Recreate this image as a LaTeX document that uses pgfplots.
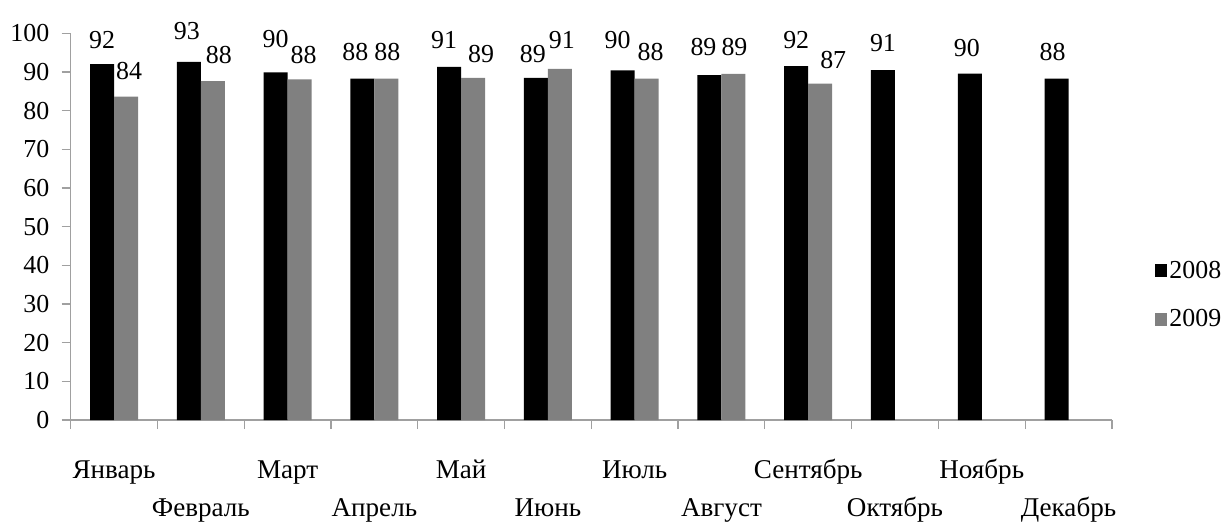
\documentclass[border=0pt]{standalone}
\usepackage{fontspec}
\setmainfont{Liberation Serif}
\usepackage{pgfplots}
\pgfplotsset{compat=1.18}
\definecolor{bargray}{HTML}{808080}
\definecolor{axgray}{HTML}{A0A0A0}
\newcommand{\chf}{\fontsize{13}{15}\selectfont}
\newcommand{\catf}{\fontsize{13.6}{15}\selectfont}
% data label: horizontal offset (px of the image, written as bp), raise (bp), text
\newcommand{\lbl}[3]{\raisebox{#2bp}{\makebox[0pt][c]{\hspace{#1bp}#3}}}
\begin{document}
\begin{tikzpicture}
\path[use as bounding box] (-35.35bp,-52.5bp) rectangle (576.65bp,210bp);
\begin{axis}[
  ybar=0pt,
  bar width=12bp,
  scale only axis, width=520.6bp, height=193.35bp,
  xmin=-0.5, xmax=11.5, ymin=0, ymax=100,
  axis x line*=bottom, axis y line*=left,
  axis line style={draw=axgray, line width=0.6bp, -},
  tick align=outside,
  major tick length=4.5bp, minor tick length=4.5bp,
  tick style={draw=axgray, line width=0.6bp},
  major x tick style={draw=none},
  ytick={0,10,...,100},
  yticklabels={0,10,20,30,40,50,60,70,80,90,100},
  xtick={0,2,4,6,8,10},
  xticklabels={Январь,Март,Май,Июль,Сентябрь,Ноябрь},
  extra x ticks={1,3,5,7,9,11},
  extra x tick labels={Февраль,Апрель,Июнь,Август,Октябрь,Декабрь},
  extra x tick style={major tick length=0pt, xticklabel style={yshift=-23.5bp}},
  minor xtick={-0.5,0.5,...,11.5},
  xticklabel style={font=\catf, anchor=base, inner sep=0pt, yshift=-24.5bp},
  yticklabel style={font=\chf, anchor=east, inner sep=0pt, xshift=-6bp},
  point meta=explicit symbolic,
  nodes near coords,
  every node near coord/.append style={font=\chf, anchor=base, inner sep=0pt},
  legend style={at={(1.0414,0.323)}, anchor=west, draw=none, fill=none, font=\chf,
     inner sep=0pt, row sep=14bp, nodes={inner xsep=1bp, inner ysep=0pt}},
  legend cell align=left,
  legend image code/.code={\fill[#1] (0bp,-3.25bp) rectangle (6bp,3.25bp);},
]
\addplot[fill=black, draw=none] coordinates {
 (0,92.0)[\lbl{0}{8}{92}] (1,92.6)[\lbl{-2}{11.3}{93}] (2,89.9)[\lbl{0}{12.5}{90}]
 (3,88.3)[\lbl{-7}{8.9}{88}] (4,91.3)[\lbl{-5}{9.3}{91}] (5,88.5)[\lbl{-3}{7.5}{89}]
 (6,90.4)[\lbl{-5}{11}{90}] (7,89.2)[\lbl{-6}{10}{89}] (8,91.5)[\lbl{0}{9}{92}]
 (9,90.5)[\lbl{0}{9.2}{91}] (10,89.6)[\lbl{-3}{8.4}{90}] (11,88.3)[\lbl{-4}{8.9}{88}]};
\addplot[fill=bargray, draw=none] coordinates {
 (0,83.6)[\lbl{3}{8.4}{84}] (1,87.6)[\lbl{6}{9}{88}] (2,88.1)[\lbl{4}{7.7}{88}]
 (3,88.3)[\lbl{1}{8.9}{88}] (4,88.5)[\lbl{8}{7.5}{89}] (5,90.8)[\lbl{2}{10.3}{91}]
 (6,88.3)[\lbl{4}{9.25}{88}] (7,89.5)[\lbl{1}{9.45}{89}] (8,87.0)[\lbl{13}{7.65}{87}]};
\legend{2008,2009}
\end{axis}
\end{tikzpicture}
\end{document}
